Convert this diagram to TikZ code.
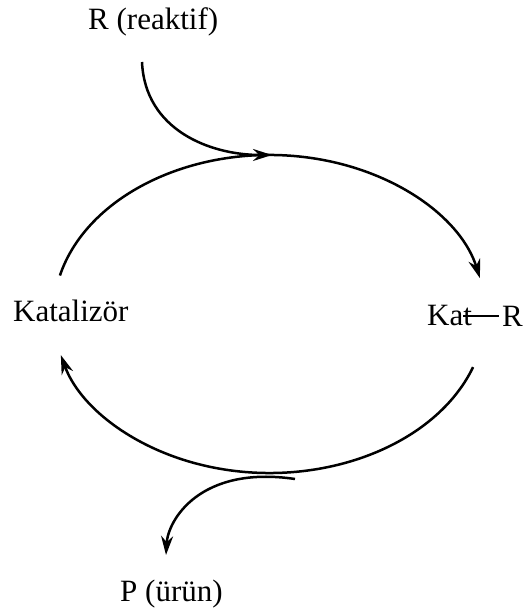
\documentclass[tikz,border=0pt]{standalone}
\usepackage{fontspec}
\setmainfont{Liberation Serif}
\usetikzlibrary{arrows.meta}
\begin{document}
\begin{tikzpicture}[x=1pt,y=1pt,
  lbl/.style={anchor=base west,inner sep=0pt,font=\fontsize{31}{35}\selectfont},
  curve/.style={line width=2.5pt},
  tip/.style={-{Stealth[length=19pt,width=12pt]}}]
\useasboundingbox (0,0) rectangle (524,612);
% texts
\node[lbl] (reakt) at (88,582) {R (reaktif)};
\node[lbl] (kataliz) at (13,290) {Katalizör};
\node[lbl] (kat) at (427,286) {Kat};
\node[lbl] (katr) at (502,285) {R};
\node[lbl] (urun) at (120,10) {P (ürün)};
% bond line
\coordinate (b1) at (463,296);
\coordinate (b2) at (499,296);
\draw[line width=1.8pt] (b1) -- (b2);
% cycle
\coordinate (c) at (269.5,298);
\draw[curve,tip] ([shift={(166:216pt and 159pt)}]c) arc[start angle=166,end angle=13,x radius=216pt,y radius=159pt];
\draw[curve,tip] ([shift={(-19.5:216pt and 159pt)}]c) arc[start angle=-19.5,end angle=-165,x radius=216pt,y radius=159pt];
% R in
\coordinate (rin) at (142,550);
\coordinate (rjoin) at (272,457);
\draw[curve,tip] (rin) .. controls (145,482) and (210,457) .. (rjoin);
% P out
\coordinate (pout) at (295,133);
\coordinate (pend) at (166,57);
\draw[curve,tip] (pout) .. controls (200,147) and (168,92) .. (pend);
\end{tikzpicture}
\end{document}
